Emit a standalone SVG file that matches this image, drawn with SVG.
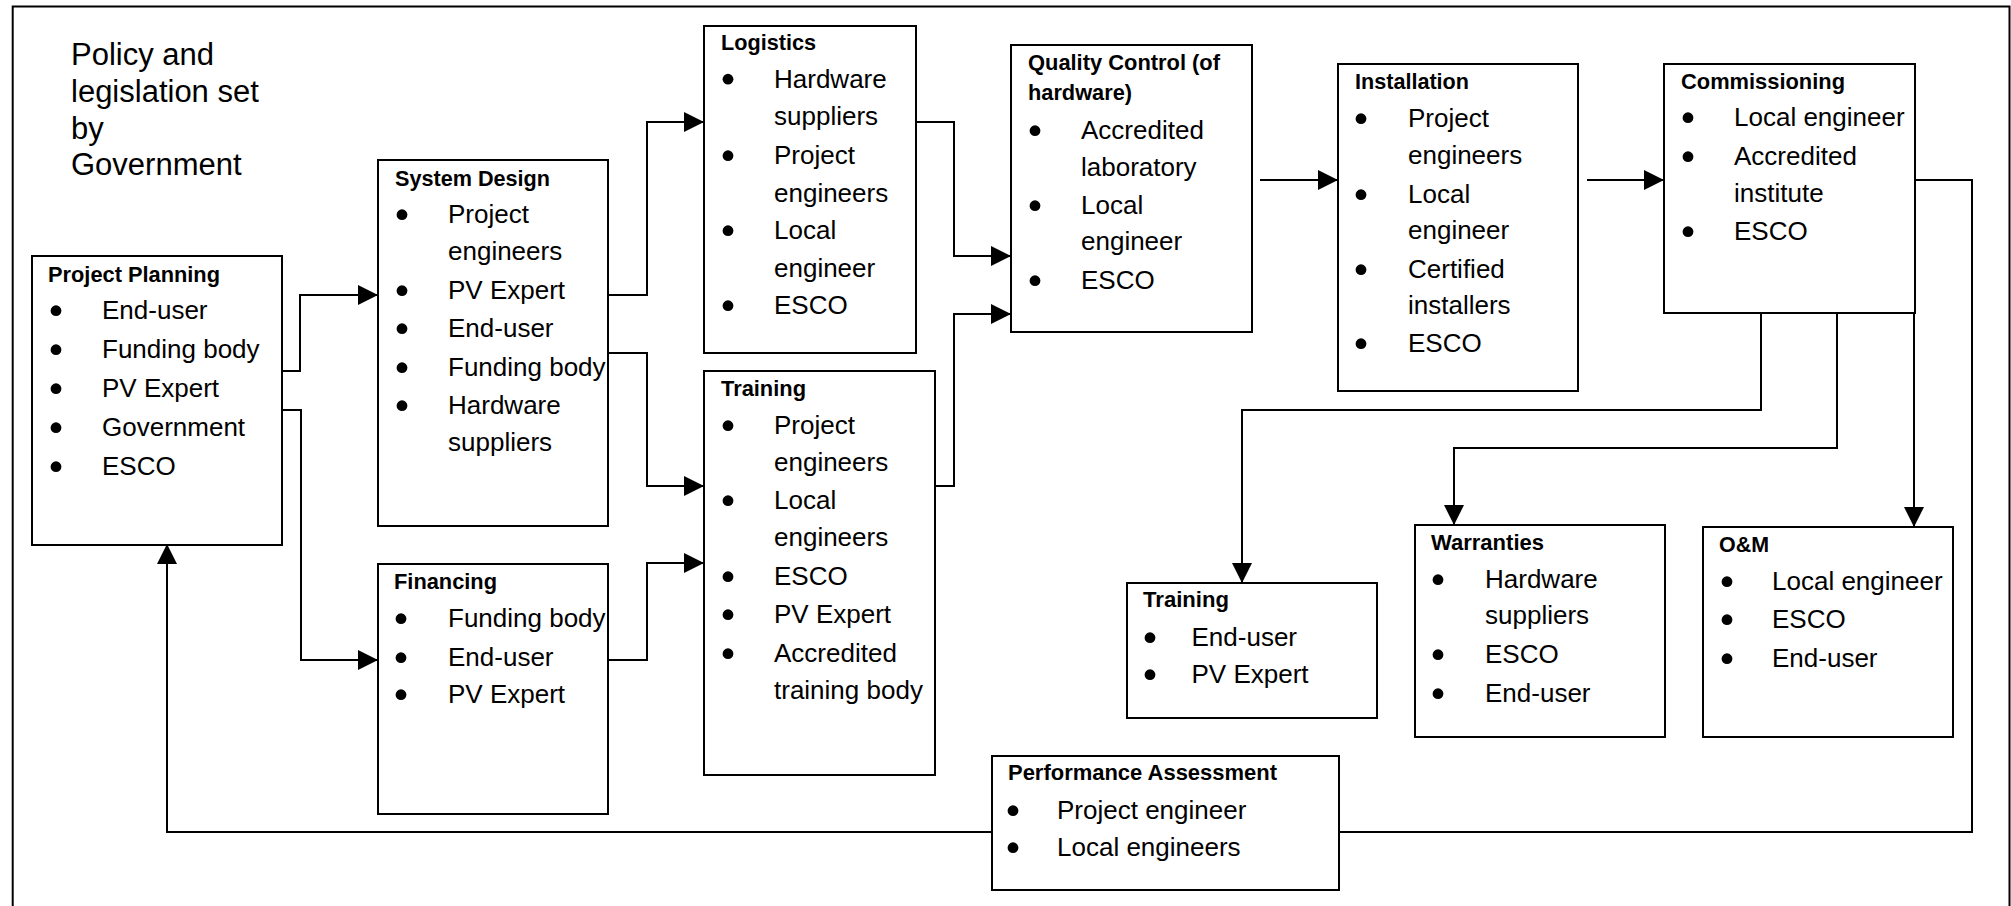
<svg xmlns="http://www.w3.org/2000/svg" width="2011" height="906" viewBox="0 0 2011 906">
<style>
.box{fill:#fff;stroke:#000;stroke-width:2}
.t{font-family:"Liberation Sans",Arial,sans-serif;font-size:22.5px;font-weight:bold;fill:#000}
.i{font-family:"Liberation Sans",Arial,sans-serif;font-size:26px;fill:#000}
.p{font-family:"Liberation Sans",Arial,sans-serif;font-size:31px;fill:#000}
.c{fill:none;stroke:#000;stroke-width:2}
.d{fill:#000}
</style>
<defs>
<marker id="ah" markerUnits="userSpaceOnUse" markerWidth="20" markerHeight="20" viewBox="0 0 20 20" refX="20" refY="10" orient="auto">
<path d="M0,0 L20,10 L0,20 Z" fill="#000"/>
</marker>
<circle id="bl" r="5.4"/>
</defs>
<rect width="2011" height="906" fill="#fff"/>
<path d="M12.7,906 V6.5 H2009.5 V906" fill="none" stroke="#000" stroke-width="2"/>
<text class="p"><tspan x="71" y="65">Policy and</tspan><tspan x="71" y="102">legislation set</tspan><tspan x="71" y="138.6">by</tspan><tspan x="71" y="175">Government</tspan></text>

<g id="connectors">
<path class="c" d="M282,371 H300 V295 H378" marker-end="url(#ah)"/>
<path class="c" d="M282,410 H301 V660 H378" marker-end="url(#ah)"/>
<path class="c" d="M608,295 H647 V122 H704" marker-end="url(#ah)"/>
<path class="c" d="M608,353 H647 V486 H704" marker-end="url(#ah)"/>
<path class="c" d="M608,660 H647 V563 H704" marker-end="url(#ah)"/>
<path class="c" d="M916,122 H954 V256 H1011" marker-end="url(#ah)"/>
<path class="c" d="M935,486 H954 V314 H1011" marker-end="url(#ah)"/>
<path class="c" d="M1260,180 H1338" marker-end="url(#ah)"/>
<path class="c" d="M1587,180 H1664" marker-end="url(#ah)"/>
<path class="c" d="M1761,313 V410 H1242 V583" marker-end="url(#ah)"/>
<path class="c" d="M1837,313 V448 H1454 V525" marker-end="url(#ah)"/>
<path class="c" d="M1914,313 V527" marker-end="url(#ah)"/>
<path class="c" d="M1915,180 H1972 V832 H1339"/>
<path class="c" d="M992,832 H167 V544" marker-end="url(#ah)"/>
</g>

<g id="project-planning">
<rect class="box" x="32" y="256" width="250" height="289"/>
<text class="t" x="48" y="282" textLength="172" lengthAdjust="spacingAndGlyphs">Project Planning</text>
<use href="#bl" x="56" y="310.7" class="d"/><text class="i" x="102" y="319">End-user</text>
<use href="#bl" x="56" y="349.7" class="d"/><text class="i" x="102" y="358">Funding body</text>
<use href="#bl" x="56" y="388.7" class="d"/><text class="i" x="102" y="397">PV Expert</text>
<use href="#bl" x="56" y="427.7" class="d"/><text class="i" x="102" y="436">Government</text>
<use href="#bl" x="56" y="466.7" class="d"/><text class="i" x="102" y="475">ESCO</text>
</g>

<g id="system-design">
<rect class="box" x="378" y="160" width="230" height="366"/>
<text class="t" x="395" y="186" textLength="155" lengthAdjust="spacingAndGlyphs">System Design</text>
<use href="#bl" x="402" y="214.7" class="d"/><text class="i" x="448" y="223">Project</text>
<text class="i" x="448" y="260">engineers</text>
<use href="#bl" x="402" y="290.7" class="d"/><text class="i" x="448" y="299">PV Expert</text>
<use href="#bl" x="402" y="328.7" class="d"/><text class="i" x="448" y="337">End-user</text>
<use href="#bl" x="402" y="367.7" class="d"/><text class="i" x="448" y="376">Funding body</text>
<use href="#bl" x="402" y="405.7" class="d"/><text class="i" x="448" y="414">Hardware</text>
<text class="i" x="448" y="451">suppliers</text>
</g>

<g id="financing">
<rect class="box" x="378" y="564" width="230" height="250"/>
<text class="t" x="394" y="589" textLength="103" lengthAdjust="spacingAndGlyphs">Financing</text>
<use href="#bl" x="401" y="618.7" class="d"/><text class="i" x="448" y="627">Funding body</text>
<use href="#bl" x="401" y="657.7" class="d"/><text class="i" x="448" y="666">End-user</text>
<use href="#bl" x="401" y="694.7" class="d"/><text class="i" x="448" y="703">PV Expert</text>
</g>

<g id="logistics">
<rect class="box" x="704" y="26" width="212" height="327"/>
<text class="t" x="721" y="50" textLength="95" lengthAdjust="spacingAndGlyphs">Logistics</text>
<use href="#bl" x="728" y="79.2" class="d"/><text class="i" x="774" y="87.5">Hardware</text>
<text class="i" x="774" y="125">suppliers</text>
<use href="#bl" x="728" y="155.7" class="d"/><text class="i" x="774" y="164">Project</text>
<text class="i" x="774" y="202">engineers</text>
<use href="#bl" x="728" y="230.7" class="d"/><text class="i" x="774" y="239">Local</text>
<text class="i" x="774" y="277">engineer</text>
<use href="#bl" x="728" y="305.7" class="d"/><text class="i" x="774" y="314">ESCO</text>
</g>

<g id="training-mid">
<rect class="box" x="704" y="371" width="231" height="404"/>
<text class="t" x="721" y="396" textLength="85" lengthAdjust="spacingAndGlyphs">Training</text>
<use href="#bl" x="728" y="425.7" class="d"/><text class="i" x="774" y="434">Project</text>
<text class="i" x="774" y="471">engineers</text>
<use href="#bl" x="728" y="500.7" class="d"/><text class="i" x="774" y="509">Local</text>
<text class="i" x="774" y="546">engineers</text>
<use href="#bl" x="728" y="576.7" class="d"/><text class="i" x="774" y="585">ESCO</text>
<use href="#bl" x="728" y="614.7" class="d"/><text class="i" x="774" y="623">PV Expert</text>
<use href="#bl" x="728" y="653.7" class="d"/><text class="i" x="774" y="662">Accredited</text>
<text class="i" x="774" y="699">training body</text>
</g>

<g id="quality-control">
<rect class="box" x="1011" y="45" width="241" height="287"/>
<text class="t" x="1028" y="70" textLength="192" lengthAdjust="spacingAndGlyphs">Quality Control (of</text>
<text class="t" x="1028" y="100" textLength="104" lengthAdjust="spacingAndGlyphs">hardware)</text>
<use href="#bl" x="1035" y="130.7" class="d"/><text class="i" x="1081" y="139">Accredited</text>
<text class="i" x="1081" y="176">laboratory</text>
<use href="#bl" x="1035" y="205.7" class="d"/><text class="i" x="1081" y="214">Local</text>
<text class="i" x="1081" y="250">engineer</text>
<use href="#bl" x="1035" y="280.7" class="d"/><text class="i" x="1081" y="289">ESCO</text>
</g>

<g id="installation">
<rect class="box" x="1338" y="64" width="240" height="327"/>
<text class="t" x="1355" y="89" textLength="114" lengthAdjust="spacingAndGlyphs">Installation</text>
<use href="#bl" x="1361" y="118.7" class="d"/><text class="i" x="1408" y="127">Project</text>
<text class="i" x="1408" y="164">engineers</text>
<use href="#bl" x="1361" y="194.7" class="d"/><text class="i" x="1408" y="203">Local</text>
<text class="i" x="1408" y="239">engineer</text>
<use href="#bl" x="1361" y="269.7" class="d"/><text class="i" x="1408" y="278">Certified</text>
<text class="i" x="1408" y="314">installers</text>
<use href="#bl" x="1361" y="343.7" class="d"/><text class="i" x="1408" y="352">ESCO</text>
</g>

<g id="commissioning">
<rect class="box" x="1664" y="64" width="251" height="249"/>
<text class="t" x="1681" y="89" textLength="164" lengthAdjust="spacingAndGlyphs">Commissioning</text>
<use href="#bl" x="1688" y="117.7" class="d"/><text class="i" x="1734" y="126">Local engineer</text>
<use href="#bl" x="1688" y="156.7" class="d"/><text class="i" x="1734" y="165">Accredited</text>
<text class="i" x="1734" y="202">institute</text>
<use href="#bl" x="1688" y="231.7" class="d"/><text class="i" x="1734" y="240">ESCO</text>
</g>

<g id="training-end">
<rect class="box" x="1127" y="583" width="250" height="135"/>
<text class="t" x="1143" y="607" textLength="86" lengthAdjust="spacingAndGlyphs">Training</text>
<use href="#bl" x="1150" y="637.7" class="d"/><text class="i" x="1191.5" y="646">End-user</text>
<use href="#bl" x="1150" y="674.7" class="d"/><text class="i" x="1191.5" y="683">PV Expert</text>
</g>

<g id="warranties">
<rect class="box" x="1415" y="525" width="250" height="212"/>
<text class="t" x="1431" y="550" textLength="113" lengthAdjust="spacingAndGlyphs">Warranties</text>
<use href="#bl" x="1438" y="579.7" class="d"/><text class="i" x="1485" y="588">Hardware</text>
<text class="i" x="1485" y="624">suppliers</text>
<use href="#bl" x="1438" y="654.7" class="d"/><text class="i" x="1485" y="663">ESCO</text>
<use href="#bl" x="1438" y="693.7" class="d"/><text class="i" x="1485" y="702">End-user</text>
</g>

<g id="om">
<rect class="box" x="1703" y="527" width="250" height="210"/>
<text class="t" x="1719" y="552" textLength="50" lengthAdjust="spacingAndGlyphs">O&amp;M</text>
<use href="#bl" x="1727" y="581.7" class="d"/><text class="i" x="1772" y="590">Local engineer</text>
<use href="#bl" x="1727" y="619.7" class="d"/><text class="i" x="1772" y="628">ESCO</text>
<use href="#bl" x="1727" y="658.7" class="d"/><text class="i" x="1772" y="667">End-user</text>
</g>

<g id="performance-assessment">
<rect class="box" x="992" y="756" width="347" height="134"/>
<text class="t" x="1008" y="780" textLength="269" lengthAdjust="spacingAndGlyphs">Performance Assessment</text>
<use href="#bl" x="1013" y="810.7" class="d"/><text class="i" x="1057" y="819">Project engineer</text>
<use href="#bl" x="1013" y="847.7" class="d"/><text class="i" x="1057" y="856">Local engineers</text>
</g>
</svg>
